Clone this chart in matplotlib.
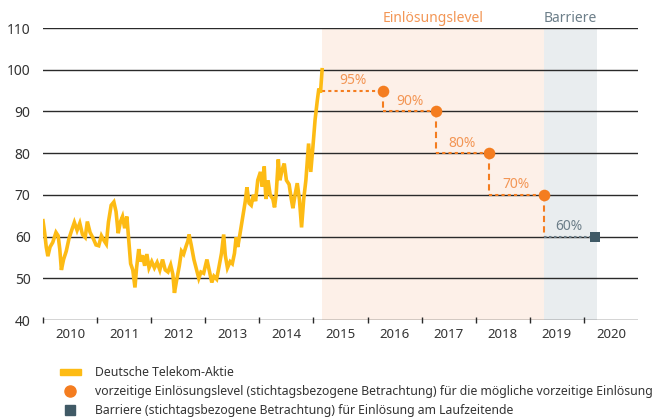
import matplotlib.pyplot as plt
from matplotlib.patches import Rectangle
from matplotlib.lines import Line2D

# Deutsche Telekom share price
price_dates = [
    2010.00, 2010.03, 2010.06, 2010.09, 2010.13, 2010.18, 2010.24, 2010.28, 2010.31, 2010.34,
    2010.38, 2010.43, 2010.48, 2010.53, 2010.58, 2010.63, 2010.68, 2010.73, 2010.78, 2010.82,
    2010.87, 2010.93, 2010.98, 2011.03, 2011.08, 2011.13, 2011.17, 2011.21, 2011.26, 2011.31,
    2011.35, 2011.39, 2011.43, 2011.47, 2011.51, 2011.55, 2011.58, 2011.62, 2011.66, 2011.70,
    2011.73, 2011.77, 2011.80, 2011.84, 2011.88, 2011.92, 2011.96, 2012.01, 2012.06, 2012.11,
    2012.16, 2012.21, 2012.26, 2012.31, 2012.36, 2012.40, 2012.43, 2012.47, 2012.52, 2012.56,
    2012.60, 2012.64, 2012.68, 2012.70, 2012.74, 2012.79, 2012.84, 2012.88, 2012.92, 2012.97,
    2013.03, 2013.08, 2013.12, 2013.16, 2013.21, 2013.25, 2013.30, 2013.34, 2013.37, 2013.41,
    2013.46, 2013.50, 2013.54, 2013.57, 2013.60, 2013.64, 2013.69, 2013.74, 2013.77, 2013.81,
    2013.85, 2013.89, 2013.93, 2013.97, 2014.02, 2014.05, 2014.09, 2014.12, 2014.16, 2014.20,
    2014.25, 2014.28, 2014.31, 2014.35, 2014.38, 2014.42, 2014.46, 2014.50, 2014.55, 2014.59,
    2014.62, 2014.66, 2014.70, 2014.74, 2014.78, 2014.82, 2014.86, 2014.91, 2014.95, 2014.99,
    2015.03, 2015.07, 2015.10, 2015.13, 2015.16,
]
price_values = [
    63.8, 61.0, 57.5, 55.3, 57.5, 58.6, 61.0, 60.2, 57.0, 52.0,
    54.5, 56.5, 59.5, 61.5, 63.4, 61.5, 63.2, 60.5, 59.8, 63.6,
    61.0, 59.5, 58.0, 57.8, 60.2, 59.0, 58.2, 63.5, 67.5, 68.3,
    66.0, 60.8, 63.5, 64.8, 62.0, 64.8, 60.0, 53.5, 52.0, 47.8,
    52.5, 57.0, 54.0, 55.5, 53.0, 55.8, 52.5, 54.0, 52.5, 53.8,
    52.0, 54.5, 52.0, 51.5, 53.2, 51.0, 46.5, 49.5, 53.0, 56.5,
    55.8, 57.5, 59.0, 60.5, 58.0, 54.5, 52.0, 50.0, 51.5, 51.2,
    54.5, 51.5, 49.0, 50.5, 49.8, 52.5, 56.0, 60.5, 55.5, 52.5,
    54.0, 53.5, 56.0, 59.8, 57.5, 60.5, 64.5, 68.5, 71.8, 68.0,
    67.5, 70.0, 68.5, 73.5, 75.5, 72.0, 76.8, 69.0, 73.5, 70.0,
    69.0, 67.0, 70.0, 78.5, 73.5, 76.0, 77.5, 73.5, 72.5, 69.0,
    66.8, 70.0, 72.8, 69.0, 62.2, 69.0, 73.5, 82.3, 75.5, 81.5,
    88.0, 92.5, 95.5, 94.5, 100.0,
]

# early redemption levels
obs_dates = [2016.28, 2017.27, 2018.24, 2019.26]
redemption_levels = [95, 90, 80, 70]
level_labels = ['95%', '90%', '80%', '70%']

# barrier at maturity
barrier_date = 2020.20
barrier_level = 60
barrier_label = '60%'

start_date = 2015.16
barrier_zone_end = 2020.24

years = list(range(2010, 2021))
yticks = [40, 50, 60, 70, 80, 90, 100, 110]

yellow = '#fdbb14'
orange = '#f47d20'
orange_text = '#f39655'
grey_text = '#6c7e89'
barrier_col = '#405a66'

plt.rcParams['font.family'] = ['Noto Sans', 'DejaVu Sans']

fig = plt.figure(figsize=(6.7, 4.19), dpi=100)
ax = fig.add_axes([43 / 670, 1 - 320 / 419, 595 / 670, 292 / 419])

ax.axvspan(start_date, obs_dates[-1], color='#fdf0e8', lw=0, zorder=0)
ax.axvspan(obs_dates[-1], barrier_zone_end, color='#e9edef', lw=0, zorder=0)

for y in yticks:
    ax.axhline(y, color='#2a2a2a', lw=1, zorder=1)

ax.plot(price_dates, price_values, color=yellow, lw=2.6, zorder=4, solid_joinstyle='miter')

# step path between observation dates
prev_x = start_date
for x, lvl, lab in zip(obs_dates, redemption_levels, level_labels):
    ax.plot([prev_x, x], [lvl, lvl], color=orange, lw=1.5, ls=(0, (1.5, 1.5)), zorder=3)
    ax.text((prev_x + x) / 2, lvl + 0.6, lab, color=orange_text, fontsize=10,
            ha='center', va='bottom', zorder=5)
    prev_x = x
for x0, lvl_a, lvl_b in zip(obs_dates, redemption_levels, redemption_levels[1:] + [barrier_level]):
    ax.plot([x0, x0], [lvl_a, lvl_b], color=orange, lw=1.5, ls=(0, (3, 2)), zorder=3)
ax.plot([obs_dates[-1], barrier_date], [barrier_level, barrier_level], color=grey_text,
        lw=1.5, ls=(0, (1.2, 1.2)), zorder=3)
ax.text((obs_dates[-1] + barrier_date) / 2, barrier_level + 0.6, barrier_label,
        color=grey_text, fontsize=10, ha='center', va='bottom', zorder=5)

ax.scatter(obs_dates, redemption_levels, s=70, color=orange, zorder=6, lw=0)
ax.scatter([barrier_date], [barrier_level], s=55, marker='s', color=barrier_col, zorder=6, lw=0)

ax.text((start_date + obs_dates[-1]) / 2, 112.3, 'Einlösungslevel', color=orange_text,
        fontsize=10, ha='center', va='center')
ax.text((obs_dates[-1] + barrier_zone_end) / 2, 112.3, 'Barriere', color=grey_text,
        fontsize=10, ha='center', va='center')

ax.set_xlim(2010, 2021)
ax.set_ylim(40, 110)
for s in ax.spines.values():
    s.set_visible(False)

ax.set_yticks(yticks)
ax.tick_params(axis='y', length=0, pad=9, labelsize=10, labelcolor='#333333')
ax.set_xticks(years)
ax.set_xticklabels([])
ax.set_xticks([y + 0.5 for y in years], [str(y) for y in years], minor=True)
ax.tick_params(axis='x', which='major', direction='inout', length=5, width=1, color='#2a2a2a')
ax.tick_params(axis='x', which='minor', length=0, pad=6, labelsize=9.5, labelcolor='#333333')

# legend
legend_rows = [372, 391, 410]
legend_texts = [
    'Deutsche Telekom-Aktie',
    'vorzeitige Einlösungslevel (stichtagsbezogene Betrachtung) für die mögliche vorzeitige Einlösung',
    'Barriere (stichtagsbezogene Betrachtung) für Einlösung am Laufzeitende',
]
for row, txt in zip(legend_rows, legend_texts):
    fig.text(95 / 670, 1 - row / 419, txt, fontsize=8.8, color='#333333', va='center')
fig.patches.append(Rectangle((60 / 670, 1 - 375 / 419), 21 / 670, 6 / 419,
                             transform=fig.transFigure, color=yellow, figure=fig))
fig.lines.append(Line2D([70 / 670], [1 - legend_rows[1] / 419], marker='o', markersize=8,
                        color=orange, lw=0, transform=fig.transFigure, figure=fig))
fig.lines.append(Line2D([70 / 670], [1 - legend_rows[2] / 419], marker='s', markersize=7,
                        color=barrier_col, lw=0, transform=fig.transFigure, figure=fig))

fig.savefig('out.png', dpi=100)
